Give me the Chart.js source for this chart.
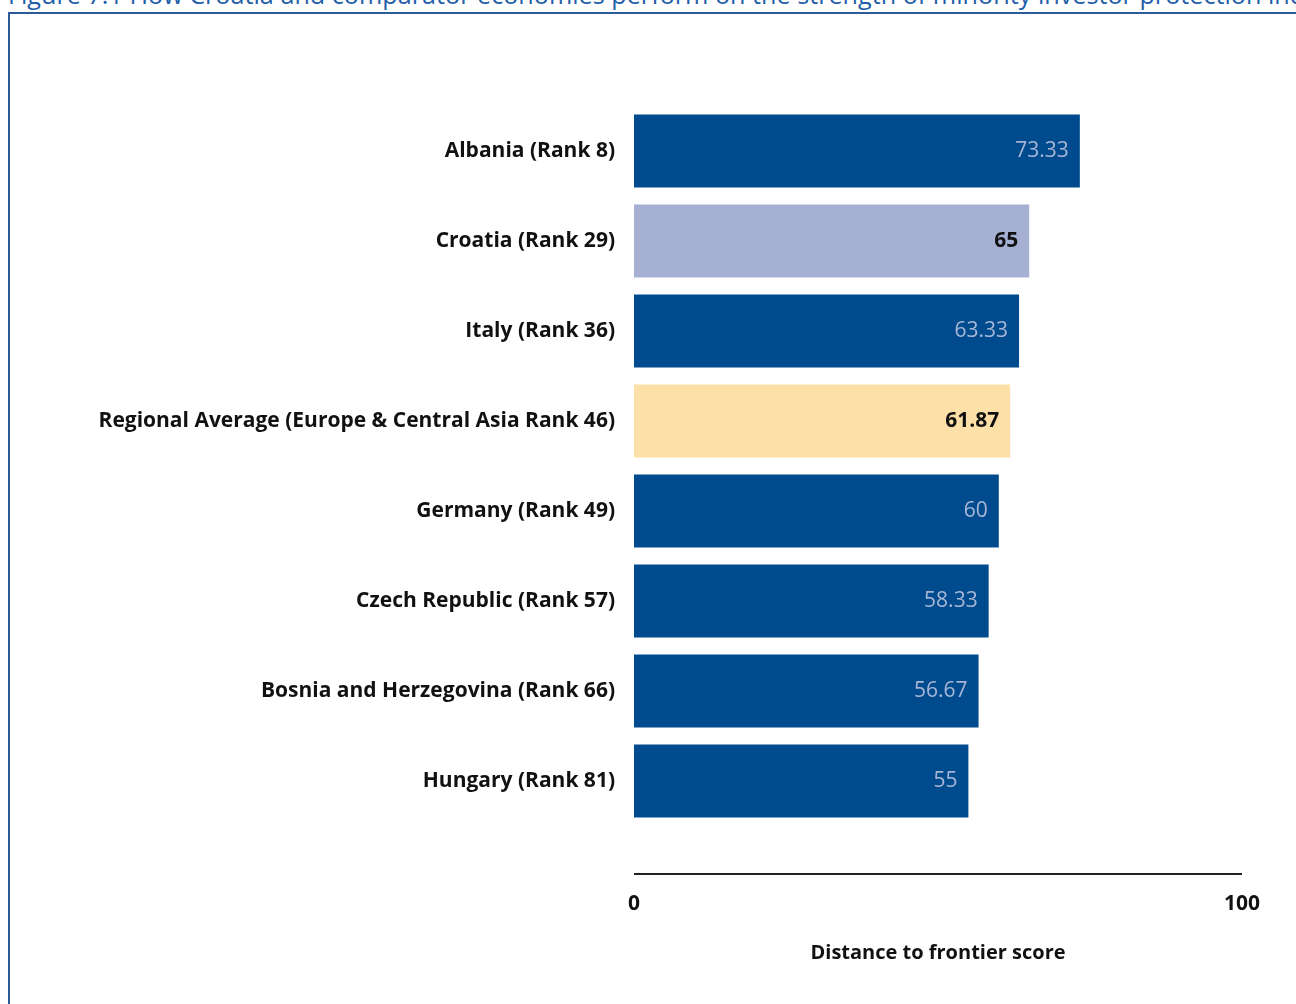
<!DOCTYPE html>
<html>
<head>
<meta charset="utf-8">
<script src="https://cdn.jsdelivr.net/npm/chart.js@4"></script>
<style>
  body { margin: 0; background: #fff; }
  #wrap { position: relative; width: 1296px; height: 1004px; overflow: hidden; }
  #caption {
    position: absolute; left: 8px; top: -23px; white-space: nowrap;
    font-family: "Open Sans", sans-serif; font-size: 25.2px; color: #1f5ea8;
  }
  #frame {
    position: absolute; left: 8px; top: 12px; width: 1400px; height: 1100px;
    border: 2px solid #2c5c98;
  }
  #myChart { position: absolute; left: 0; top: 0; }
</style>
</head>
<body>
<div id="wrap">
  <div id="caption">Figure 7.1 How Croatia and comparator economies perform on the strength of minority investor protection index</div>
  <div id="frame"></div>
  <canvas id="myChart" width="1296" height="1004"></canvas>
</div>
<script>
var economies = ['Albania (Rank 8)', 'Croatia (Rank 29)', 'Italy (Rank 36)',
  'Regional Average (Europe & Central Asia Rank 46)', 'Germany (Rank 49)',
  'Czech Republic (Rank 57)', 'Bosnia and Herzegovina (Rank 66)', 'Hungary (Rank 81)']
var scores = [73.33, 65, 63.33, 61.87, 60, 58.33, 56.67, 55]
var xTicks = [0, 100]
var axisTitle = 'Distance to frontier score'

var labelFont = '"Open Sans", sans-serif'

// Croatia and the regional average get their own colours
function barColor(name){
    if(name.indexOf('Croatia') == 0) return '#a5b0d3'
    if(name.indexOf('Regional') == 0) return '#fde0a7'
    return '#004b8d'
}

function valueColor(name){
    if(name.indexOf('Croatia') == 0 || name.indexOf('Regional') == 0) return '#111'
    return '#a7b6d6'
}

// value printed inside the end of each bar, plus the axis line under the plot
var barValues = {
    id: 'barValues',
    afterDatasetsDraw: function(chart){
        var c = chart.ctx
        var meta = chart.getDatasetMeta(0)
        c.save()
        c.textAlign = 'right'
        c.textBaseline = 'middle'
        meta.data.forEach(function(bar, i){
            var name = economies[i]
            var dark = barColor(name) == '#004b8d'
            c.font = (dark ? '400 ' : '700 ') + '21px ' + labelFont
            c.fillStyle = valueColor(name)
            c.fillText(String(scores[i]), bar.x - 11, bar.y)
        })
        var xs = chart.scales.x
        var y = chart.chartArea.bottom + 48
        c.strokeStyle = '#222'
        c.lineWidth = 2
        c.beginPath()
        c.moveTo(xs.getPixelForValue(xTicks[0]), y)
        c.lineTo(xs.getPixelForValue(xTicks[1]), y)
        c.stroke()
        c.restore()
    }
}

var ctx = document.querySelector('#myChart').getContext('2d')
var myChart = new Chart(ctx, {
    type: 'bar',
    data: {
        labels: economies,
        datasets: [{
            data: scores,
            backgroundColor: economies.map(barColor),
            borderWidth: 0,
            barPercentage: 0.81,
            categoryPercentage: 1
        }]
    },
    options: {
        indexAxis: 'y',
        responsive: false,
        animation: false,
        layout: { padding: { top: 106, right: 54, left: 0, bottom: 0 } },
        plugins: { legend: { display: false }, tooltip: { enabled: false } },
        scales: {
            y: {
                grid: { display: false, drawTicks: false },
                border: { display: false },
                ticks: { color: '#111', padding: 19, font: { family: labelFont, size: 21, weight: '700' } },
                afterFit: function(scale){ scale.width = 634 }
            },
            x: {
                min: 0,
                max: 100,
                afterBuildTicks: function(scale){ scale.ticks = xTicks.map(function(v){ return { value: v } }) },
                grid: { display: false, drawTicks: false },
                border: { display: false },
                ticks: { color: '#111', padding: 65, font: { family: labelFont, size: 21, weight: '700' } },
                title: {
                    display: true,
                    text: axisTitle,
                    color: '#111',
                    padding: { top: 0, bottom: 39 },
                    font: { family: labelFont, size: 20, weight: '700' }
                },
                // big tick padding would otherwise eat into the right side
                afterFit: function(scale){
                    scale.height = 178
                    scale.paddingLeft = 0
                    scale.paddingRight = 0
                }
            }
        }
    },
    plugins: [barValues]
})
</script>
</body>
</html>
